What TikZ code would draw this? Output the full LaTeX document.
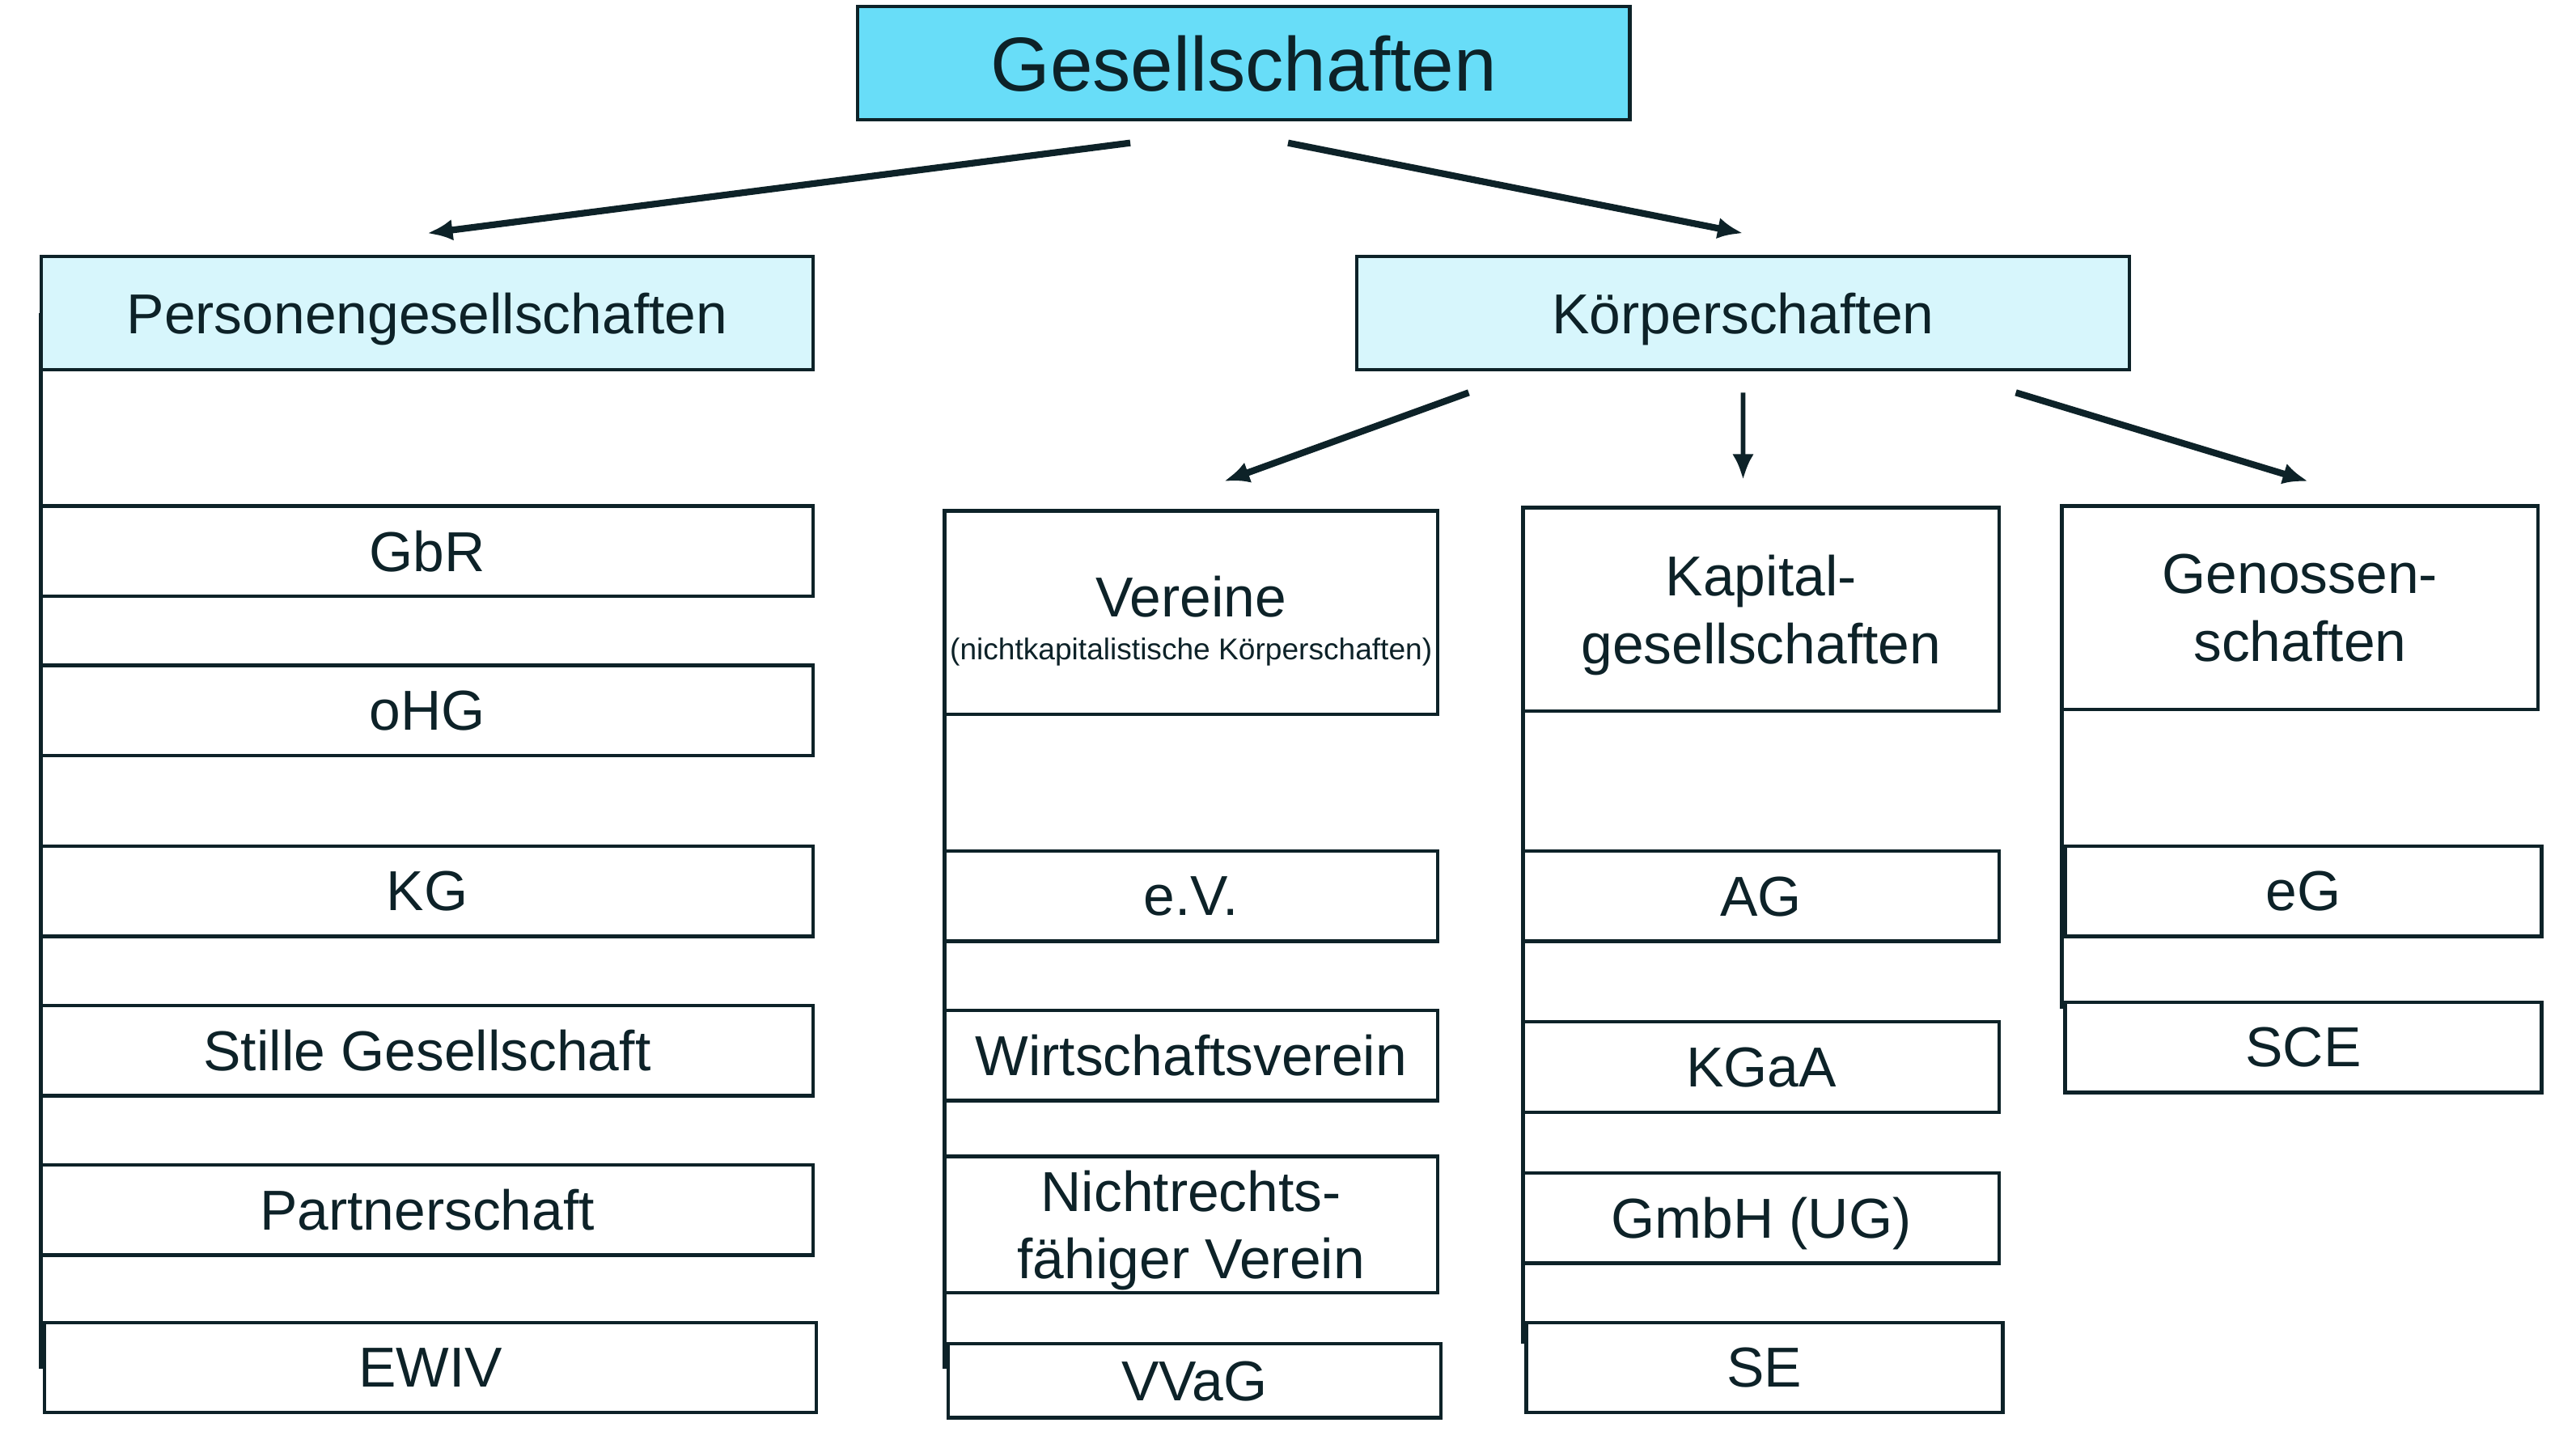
\documentclass[tikz,border=0pt]{standalone}
\usepackage{fontspec}
\setmainfont{Liberation Sans}
\usepackage{tikz}
\usetikzlibrary{positioning,calc,arrows.meta}
\definecolor{gsblue}{HTML}{68DDF8}
\definecolor{pgblue}{HTML}{D7F6FC}
\definecolor{inkdark}{HTML}{0D2228}

\begin{document}
\begin{tikzpicture}[node distance=0.84cm, auto,
        gs block/.style={rectangle, draw=inkdark, line width=1.2pt, text=inkdark, align=center, inner sep=0pt, outer sep=0pt, text depth=0pt, font=\fontsize{19.5}{23.4}\selectfont},
        head block/.style={gs block, fill=pgblue, minimum width=9.4cm, minimum height=1.38cm},
        type block/.style={gs block, minimum width=5.8cm, minimum height=2.48cm},
        leaf block/.style={gs block, minimum width=9.4cm, minimum height=1.1cm},
        line/.style={draw=inkdark, -{Latex[length=3.1mm,width=2.6mm]}, line width=2.3pt},
        rail/.style={draw=inkdark, line width=1.3pt}]
        \useasboundingbox (0,0) rectangle (31.36,-17.58);

        \node [head block, fill=gsblue, font=\fontsize{26.5}{31}\selectfont] (gs) at (15.14,-0.77) {Gesellschaften};
        \node [head block] (pg) at (5.2,-3.81) {Personengesellschaften};
        \node [head block] (kp) at (21.22,-3.81) {Körperschaften};

        % Personengesellschaften
        \node [leaf block, below=1.66cm of pg] (gbr) {GbR};
        \node [leaf block, below=of gbr] (ohg) {oHG};
        \node [leaf block, below=1.1cm of ohg] (kg) {KG};
        \node [leaf block, below=of kg] (stille) {Stille Gesellschaft};
        \node [leaf block, below=of stille] (partner) {Partnerschaft};
        \node [leaf block, below=0.82cm of partner, xshift=0.04cm] (ewiv) {EWIV};

        % Koerperschaften
        \node [type block, minimum width=6cm] (ver) at (14.5,-7.46) {\rule{0pt}{17.8pt}Vereine\\[-8.6pt]{\fontsize{10.4}{12.5}\selectfont(nichtkapitalistische Körperschaften)}};
        \node [type block] (kap) at (21.44,-7.42) {Kapital-\\gesellschaften};
        \node [type block] (gen) at (28.0,-7.40) {Genossen-\\schaften};

        \node [leaf block, minimum width=6cm, below=1.66cm of ver] (ev) {e.V.};
        \node [leaf block, minimum width=6cm, below=of ev] (wv) {Wirtschaftsverein};
        \node [leaf block, minimum width=6cm, minimum height=1.66cm, below=0.68cm of wv] (nrv) {Nichtrechts-\\fähiger Verein};
        \node [leaf block, minimum width=6cm, minimum height=0.9cm, below=0.62cm of nrv, xshift=0.04cm] (vvag) {VVaG};

        \node [leaf block, minimum width=5.8cm, below=1.7cm of kap] (ag) {AG};
        \node [leaf block, minimum width=5.8cm, below=0.98cm of ag] (kgaa) {KGaA};
        \node [leaf block, minimum width=5.8cm, below=0.74cm of kgaa] (gmbh) {GmbH (UG)};
        \node [leaf block, minimum width=5.8cm, below=0.72cm of gmbh, xshift=0.04cm] (se) {SE};

        \node [leaf block, minimum width=5.8cm, below=1.66cm of gen, xshift=0.04cm] (eg) {eG};
        \node [leaf block, minimum width=5.8cm, below=0.8cm of eg] (sce) {SCE};

        % rails along the left edges
        \draw [rail] (pg.west) -- ($(pg.west |- ewiv.north)+(0,-0.56)$);
        \draw [rail] (ver.south west) -- ($(ver.south west |- vvag.north)+(0,-0.3)$);
        \draw [rail] (kap.south west) -- ($(kap.south west |- se.north)+(0,-0.26)$);
        \draw [rail] (gen.south west) -- ($(gen.south west |- sce.north)+(0,-0.08)$);

        \path [line] ($(gs.south)+(-1.38,-0.28)$) -- ($(pg.north)+(0,0.28)$);
        \path [line] ($(gs.south)+(0.54,-0.28)$) -- ($(kp.north)+(0,0.28)$);
        \path [line] ($(kp.south)+(-3.34,-0.28)$) -- ($(ver.north)+(0.4,0.36)$);
        \path [line, line width=1.6pt] ($(kp.south)+(0,-0.28)$) -- ($(kap.north)+(-0.22,0.34)$);
        \path [line] ($(kp.south)+(3.32,-0.28)$) -- ($(gen.north)+(0.1,0.3)$);
    \end{tikzpicture}
\end{document}
